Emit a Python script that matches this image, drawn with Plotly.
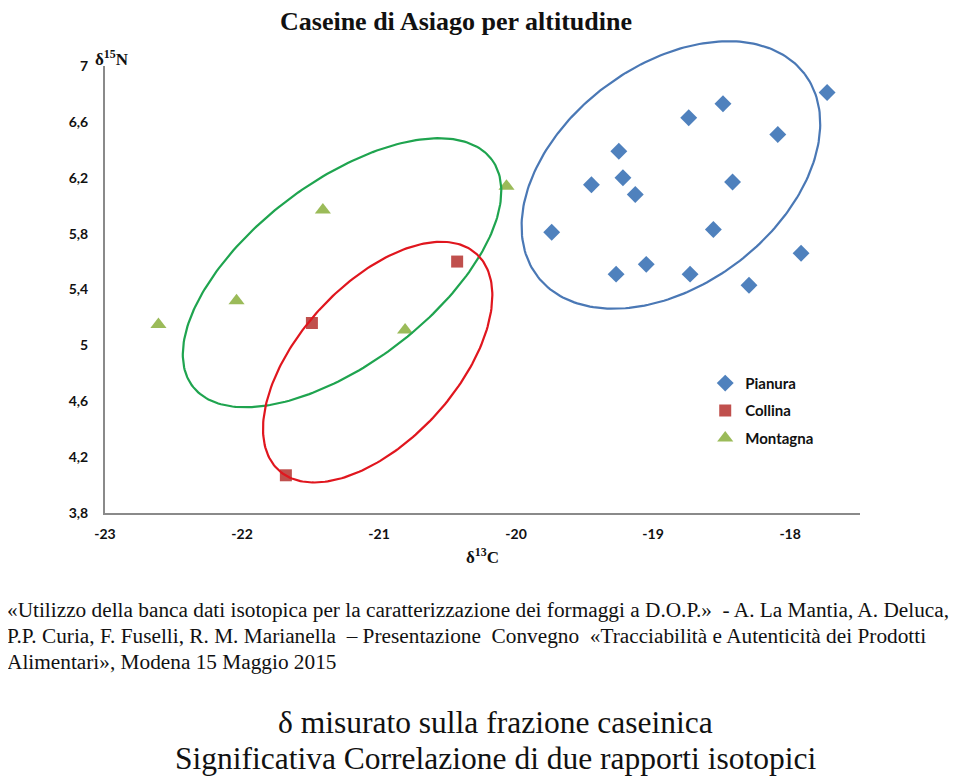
import numpy as np
import plotly.graph_objects as go

# --- data ---
pianura_x = [-17.73, -18.49, -18.74, -18.09, -19.25, -19.45, -19.22, -19.13,
             -18.42, -19.74, -18.56, -17.92, -19.05, -19.27, -18.73, -18.30]
pianura_y = [6.81, 6.73, 6.63, 6.51, 6.39, 6.15, 6.20, 6.08,
             6.17, 5.81, 5.83, 5.66, 5.58, 5.51, 5.51, 5.43]
collina_x = [-20.43, -21.49, -21.68]
collina_y = [5.60, 5.16, 4.07]
montagna_x = [-22.61, -22.04, -21.41, -20.81, -20.07]
montagna_y = [5.15, 5.32, 5.97, 5.11, 6.14]

x_ticks = [-23, -22, -21, -20, -19, -18]
y_ticks = [3.8, 4.2, 4.6, 5.0, 5.4, 5.8, 6.2, 6.6, 7.0]

X_RANGE = [-23, -17.49]
Y_RANGE = [3.8, 7.0]

# hand-drawn group ellipses: centre (data), semi-axes (px), tilt (deg)
ellipse_blue = (-18.87, 6.22, 167.6, 110.0, 37.0)
ellipse_green = (-21.27, 5.52, 187.7, 90.7, 37.2)
ellipse_red = (-21.01, 4.88, 146.6, 78.4, 47.5)

# page body adds ~8px offset, so the figure is shrunk and shifted back
OFF = 8
W, H = 960 - OFF, 780 - OFF
PLOT_TOP = 66          # reference px of y = 7
EXTRA_TOP = 30         # reference px of top of the (invisible) ellipse layer
M = dict(l=105 - OFF, r=100, t=EXTRA_TOP - OFF, b=267)
PW = W - M["l"] - M["r"]
PH_ALL = H - M["t"] - M["b"]
PH = PH_ALL - (PLOT_TOP - EXTRA_TOP)
DOM_TOP = PH / PH_ALL
SX = PW / (X_RANGE[1] - X_RANGE[0])
SY = PH / (Y_RANGE[1] - Y_RANGE[0])
Y2_RANGE = [Y_RANGE[0], Y_RANGE[0] + PH_ALL / SY]

BLUE = "#4F81BD"
RED = "#C0504D"
GREEN = "#9BBB59"
SERIF = "Liberation Serif"
SANS = "Lato"


def ellipse(cx, cy, a, b, ang):
    t = np.linspace(0, 2 * np.pi, 240)
    th = np.radians(ang)
    dx = a * np.cos(th) * np.cos(t) - b * np.sin(th) * np.sin(t)
    dy = a * np.sin(th) * np.cos(t) + b * np.cos(th) * np.sin(t)
    return cx + dx / SX, cy + dy / SY


fig = go.Figure()

for e, clr in [(ellipse_blue, "#4A78B5"), (ellipse_green, "#1FA44F"),
               (ellipse_red, "#E0161E")]:
    ex, ey = ellipse(*e)
    fig.add_trace(go.Scatter(x=ex, y=ey, mode="lines", showlegend=False,
                             xaxis="x2", yaxis="y2",
                             line=dict(color=clr, width=2.2), hoverinfo="skip"))

fig.add_trace(go.Scatter(x=pianura_x, y=pianura_y, mode="markers", name="Pianura",
                         legendgroup="p", cliponaxis=False,
                         marker=dict(symbol="diamond", size=13, color=BLUE)))
fig.add_trace(go.Scatter(x=collina_x, y=collina_y, mode="markers", name="Collina",
                         legendgroup="c", cliponaxis=False,
                         marker=dict(symbol="square", size=12, color=RED)))
fig.add_trace(go.Scatter(x=montagna_x, y=montagna_y, mode="markers", name="Montagna",
                         legendgroup="m", cliponaxis=False,
                         marker=dict(symbol="triangle-up", size=14, color=GREEN)))

axis_common = dict(showgrid=False, zeroline=False, showline=True, automargin=False,
                   linecolor="#8A8A8A", linewidth=2, ticks="",
                   tickfont=dict(family=SANS, size=14, color="#111", weight="bold"))
hidden = dict(showgrid=False, zeroline=False, showline=False, showticklabels=False,
              ticks="", automargin=False, fixedrange=True)

fig.update_layout(
    width=W, height=H, margin=M,
    paper_bgcolor="white", plot_bgcolor="rgba(0,0,0,0)",
    xaxis=dict(range=X_RANGE, tickvals=x_ticks, ticktext=[str(v) for v in x_ticks],
               ticklabelstandoff=7, **axis_common),
    yaxis=dict(range=Y_RANGE, tickvals=y_ticks, domain=[0, DOM_TOP],
               ticktext=[f"{v:g}".replace(".", ",") for v in y_ticks],
               ticklabelstandoff=12, **axis_common),
    xaxis2=dict(range=X_RANGE, overlaying="x", **hidden),
    yaxis2=dict(range=Y2_RANGE, domain=[0, 1], anchor="x2", **hidden),
    legend=dict(x=0.795, y=0.327 * DOM_TOP, xanchor="left", yanchor="top",
                font=dict(family=SANS, size=15, color="#111", weight="bold"),
                itemwidth=30, tracegroupgap=5, bgcolor="rgba(0,0,0,0)"),
)


def py(p):
    return (H - M["b"] - (p - OFF)) / PH_ALL


def px(p):
    return (p - OFF - M["l"]) / PW


notes = [
    dict(text="<b>Caseine di Asiago per altitudine</b>", x=px(456), y=py(21),
         xanchor="center", size=26),
    dict(text="<b>δ<sup>15</sup>N</b>", x=px(112), y=py(58), xanchor="center", size=17),
    dict(text="<b>δ<sup>13</sup>C</b>", x=px(482), y=py(556), xanchor="center", size=17),
    dict(text="«Utilizzo della banca dati isotopica per la caratterizzazione dei formaggi a D.O.P.»  - A. La Mantia, A. Deluca,",
         x=px(5), y=py(610), xanchor="left", size=21.3),
    dict(text="P.P. Curia, F. Fuselli, R. M. Marianella  – Presentazione  Convegno  «Tracciabilità e Autenticità dei Prodotti",
         x=px(5), y=py(636), xanchor="left", size=21.3),
    dict(text="Alimentari», Modena 15 Maggio 2015",
         x=px(5), y=py(662), xanchor="left", size=21.3),
    dict(text="δ misurato sulla frazione caseinica",
         x=px(495), y=py(722), xanchor="center", size=31.5),
    dict(text="Significativa Correlazione di due rapporti isotopici",
         x=px(495), y=py(758), xanchor="center", size=31.5),
]
for n in notes:
    fig.add_annotation(text=n["text"], x=n["x"], y=n["y"], xref="paper", yref="paper",
                       xanchor=n["xanchor"], yanchor="middle", showarrow=False,
                       font=dict(family=SERIF, size=n["size"], color="#111"))

fig.write_html("out.html")
